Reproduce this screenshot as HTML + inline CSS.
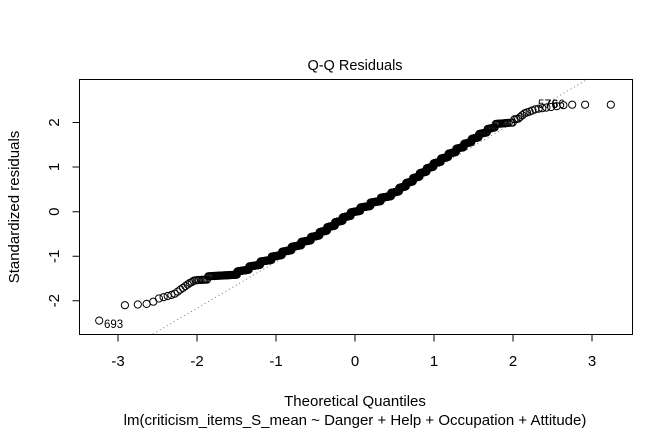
<!DOCTYPE html>
<html><head><style>body{margin:0;background:#fff}svg{display:block}text{font-family:"Liberation Sans",sans-serif}</style></head>
<body>
<svg id="s" width="672" height="432" xmlns="http://www.w3.org/2000/svg">
<rect x="79.5" y="79.5" width="553" height="255" fill="none" stroke="#000" stroke-width="1"/>
<text x="355" y="70" font-size="14.5" text-anchor="middle">Q-Q Residuals</text>
<text x="355" y="406" font-size="15" text-anchor="middle">Theoretical Quantiles</text>
<text x="355" y="425" font-size="15" text-anchor="middle">lm(criticism_items_S_mean ~ Danger + Help + Occupation + Attitude)</text>
<text transform="translate(19,207) rotate(-90)" font-size="15" text-anchor="middle">Standardized residuals</text>
<g stroke="#000" fill="none">
<path d="M118,334.5v7M197,334.5v7M276,334.5v7M355,334.5v7M434,334.5v7M513,334.5v7M592,334.5v7"/>
<path d="M79.5,122.5h-7M79.5,167h-7M79.5,211.7h-7M79.5,256.3h-7M79.5,300.7h-7"/>
</g>
<g font-size="15" text-anchor="middle">
<text x="118" y="366">-3</text><text x="197" y="366">-2</text><text x="276" y="366">-1</text><text x="355" y="366">0</text><text x="434" y="366">1</text><text x="513" y="366">2</text><text x="592" y="366">3</text>
</g>
<g font-size="15" text-anchor="middle">
<text transform="translate(54,122.5) rotate(-90)" dy="5">2</text>
<text transform="translate(54,167) rotate(-90)" dy="5">1</text>
<text transform="translate(54,211.7) rotate(-90)" dy="5">0</text>
<text transform="translate(54,256.3) rotate(-90)" dy="5">-1</text>
<text transform="translate(54,300.7) rotate(-90)" dy="5">-2</text>
</g>
<line x1="153" y1="334" x2="588" y2="79" stroke="#777" stroke-width="1" stroke-dasharray="1,3"/>
<g id="pts" fill="none" stroke="#000" stroke-width="1"></g>
<text x="104" y="328" font-size="11.5">693</text>
<text x="538" y="108" font-size="11.5">57</text>
<text x="545" y="108" font-size="11.5">76</text>
<text x="552" y="108" font-size="11.5">66</text>
</svg>
<script>
var K=[[-3.3,-2.5],[-2.95,-2.1],[-2.75,-2.08],[-2.6,-2.06],[-2.5,-1.95],[-2.3,-1.85],[-2.1,-1.6],[-2.0,-1.52],[-1.5,-1.38],[-1.0,-1.0],[-0.5,-0.55],[-0.1,-0.1],[0,0],[0.5,0.42],[1.0,1.05],[1.5,1.62],[1.8,1.95],[2.05,2.05],[2.15,2.2],[2.3,2.3],[2.5,2.35],[2.7,2.4],[3.3,2.4]];
function f(q){for(var i=1;i<K.length;i++){if(q<=K[i][0]){var a=K[i-1],b=K[i];return a[1]+(b[1]-a[1])*(q-a[0])/(b[0]-a[0]);}}return 2.4;}
function qn(p){var a=[-39.6968,220.946,-275.929,138.358,-30.6648,2.50663],b=[-54.4761,161.586,-155.699,66.8013,-13.2806],c=[-0.00778489,-0.322396,-2.40076,-2.54973,4.37466,2.93816],d=[0.00778470,0.322467,2.44513,3.75441],q,r;
if(p<0.02425){q=Math.sqrt(-2*Math.log(p));return (((((c[0]*q+c[1])*q+c[2])*q+c[3])*q+c[4])*q+c[5])/((((d[0]*q+d[1])*q+d[2])*q+d[3])*q+1);}
if(p>1-0.02425){q=Math.sqrt(-2*Math.log(1-p));return -(((((c[0]*q+c[1])*q+c[2])*q+c[3])*q+c[4])*q+c[5])/((((d[0]*q+d[1])*q+d[2])*q+d[3])*q+1);}
q=p-0.5;r=q*q;return (((((a[0]*r+a[1])*r+a[2])*r+a[3])*r+a[4])*r+a[5])*q/(((((b[0]*r+b[1])*r+b[2])*r+b[3])*r+b[4])*r+1);}
var n=866,g=document.getElementById('pts'),h='',s=0.11;
for(var i=1;i<=n;i++){var q=qn((i-0.5)/n);var r=f(q);
if(q>-2.05&&q<2.05){var m=s*Math.round(r/s);r=m+(r-m)*0.35;}
var x=355+q*78.7,y=211.7-r*44.6;h+='<circle cx="'+x.toFixed(1)+'" cy="'+y.toFixed(1)+'" r="3.6"/>';}
g.innerHTML=h;
</script>
</body></html>
